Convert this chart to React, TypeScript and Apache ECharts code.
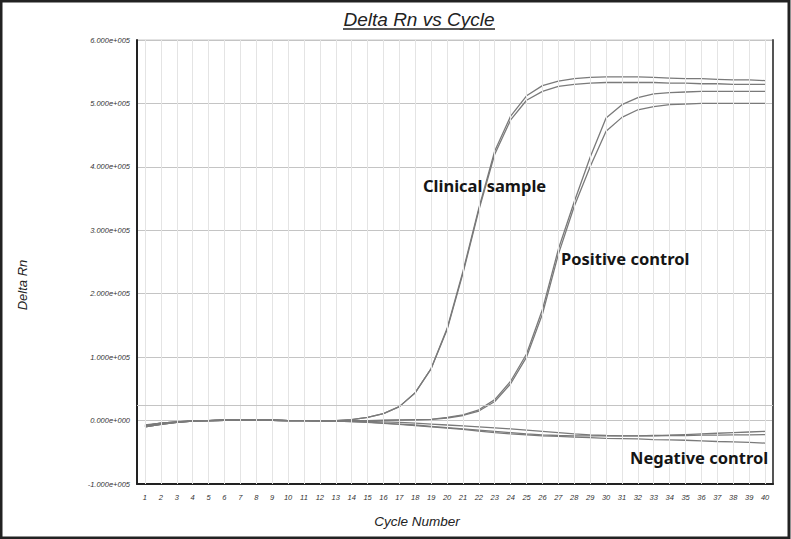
import React, { useEffect, useRef } from "react";
import * as echarts from "echarts";

const cycles: string[] = Array.from({ length: 40 }, (_, i) => String(i + 1));

const clinicalA = [-7000, -4000, -2000, -500, 0, 500, 1000, 1000, 500, 0, 0, -500, 0, 1500, 5000, 11000, 22000, 44000, 82000, 145000, 235000, 335000, 425000, 480000, 512000, 528000, 535000, 539000, 541000, 542000, 542000, 542000, 541000, 540000, 539000, 539000, 538000, 537000, 537000, 536000];
const clinicalB = [-10000, -6000, -3000, -1000, 0, 500, 1000, 1000, 500, 0, 0, -500, 0, 1500, 5000, 11000, 22000, 44000, 82000, 143000, 232000, 332000, 420000, 474000, 505000, 519000, 527000, 530000, 532000, 533000, 533000, 533000, 533000, 532000, 532000, 531000, 531000, 530000, 530000, 530000];
const positiveC = [-8000, -4000, -2000, -500, 0, 500, 800, 800, 500, 0, 0, -300, 0, 0, 0, 500, 1000, 1500, 2000, 5000, 9000, 17000, 33000, 62000, 105000, 175000, 270000, 345000, 415000, 477000, 498000, 509000, 515000, 517000, 518000, 519000, 519000, 519000, 519000, 519000];
const positiveD = [-10000, -6000, -3000, -1000, 0, 500, 800, 800, 500, 0, 0, -300, 0, 0, 0, 300, 800, 1200, 1800, 4000, 8000, 15000, 30000, 58000, 100000, 168000, 262000, 338000, 400000, 456000, 478000, 490000, 495000, 498000, 499000, 500000, 500000, 500000, 500000, 500000];
const negativeA = [-8000, -4000, -2000, -500, 0, 500, 800, 800, 500, 0, -200, -500, -500, -1000, -1500, -2000, -3000, -4000, -5500, -7000, -8500, -10000, -11500, -13000, -15000, -17000, -19000, -21000, -22500, -23500, -24000, -24000, -23500, -23000, -22000, -21000, -20000, -19000, -18000, -17000];
const negativeB = [-9000, -5000, -2500, -800, 0, 500, 800, 800, 500, 0, -200, -500, -800, -1500, -2500, -4000, -5500, -7000, -9000, -11000, -13000, -15000, -17000, -19000, -21000, -22500, -23500, -24000, -24000, -24000, -24000, -24000, -24000, -23500, -23500, -23000, -23000, -22500, -22500, -22000];
const negativeC = [-10000, -6000, -3000, -1000, 0, 500, 800, 800, 500, 0, -200, -500, -800, -1500, -3000, -4500, -6000, -8000, -10000, -12000, -14000, -16500, -19000, -21000, -22500, -24000, -25000, -26000, -27000, -28000, -28500, -29000, -30000, -30500, -31000, -32000, -33000, -33500, -34500, -35500];

const threshold = 24000;
const yMin = -100000;
const yMax = 600000;
const yStep = 100000;

const annotations = [
  { text: "Clinical sample", x: 423, y: 185 },
  { text: "Positive control", x: 561, y: 258 },
  { text: "Negative control", x: 630, y: 457 },
];

const fmt = (v: number) => {
  if (v === 0) return "0.000e+000";
  const s = v < 0 ? "-" : "";
  return s + (Math.abs(v) / 1e5).toFixed(3) + "e+005";
};

const curveStyle = { color: "#7a7a7a", width: 1.3 };

export default function App() {
  const ref = useRef<HTMLDivElement>(null);
  useEffect(() => {
    if (!ref.current) return;
    const chart = echarts.init(ref.current, undefined, { renderer: "svg" });
    const curves = [clinicalA, clinicalB, positiveC, positiveD, negativeA, negativeB, negativeC];
    const series: any[] = [
      {
        type: "line",
        data: [],
        z: 1,
        silent: true,
        markLine: {
          silent: true,
          symbol: "none",
          label: { show: false },
          animation: false,
          lineStyle: { color: "#e4e4e4", width: 1, type: "solid" },
          data: cycles.map((c) => ({ xAxis: c })),
        },
      },
      {
        type: "line",
        data: [],
        z: 1,
        silent: true,
        markLine: {
          silent: true,
          symbol: "none",
          label: { show: false },
          animation: false,
          lineStyle: { color: "#c4c4c4", width: 1.2, type: "solid" },
          data: [{ yAxis: threshold }],
        },
      },
      ...curves.map((d) => ({
        type: "line",
        data: d,
        showSymbol: false,
        symbol: "none",
        z: 3,
        lineStyle: curveStyle,
        silent: true,
      })),
    ];
    chart.setOption({
      animation: false,
      backgroundColor: "#ffffff",
      grid: { left: 137, right: 18, top: 40, bottom: 55, show: true, borderColor: "#c8c8c8", borderWidth: 1, outerBoundsMode: "none" },
      xAxis: {
        type: "category",
        data: cycles,
        boundaryGap: true,
        axisLine: { show: true, onZero: false, lineStyle: { color: "#222", width: 2 } },
        axisTick: { show: false },
        splitLine: { show: false },
        axisLabel: { fontSize: 7.5, fontStyle: "italic", fontFamily: "Liberation Sans", color: "#333", margin: 9, interval: 0 },
      },
      yAxis: [
        {
          type: "value",
          min: yMin,
          max: yMax,
          interval: yStep,
          axisLine: { show: true, onZero: false, lineStyle: { color: "#222", width: 2 } },
          axisTick: { show: false },
          splitLine: { show: true, lineStyle: { color: "#c4c4c4", width: 1.2 } },
          axisLabel: { fontSize: 7.5, fontStyle: "italic", fontFamily: "Liberation Sans", color: "#333", margin: 7, formatter: fmt },
        },
        {
          type: "value",
          min: yMin,
          max: yMax,
          interval: yStep,
          position: "right",
          axisLine: { show: true, onZero: false, lineStyle: { color: "#555", width: 2 } },
          axisTick: { show: false },
          splitLine: { show: false },
          axisLabel: { show: false },
        },
      ],
      series,
      graphic: [
        { type: "rect", shape: { x: 1, y: 1, width: 788, height: 537 }, style: { fill: "none", stroke: "#222", lineWidth: 3 }, silent: true },
        { type: "text", x: 419, y: 19, style: { text: "Delta Rn vs Cycle", font: "italic 19px 'Liberation Sans'", fill: "#222", align: "center", verticalAlign: "middle" } },
        { type: "line", shape: { x1: 343, y1: 29, x2: 495, y2: 29 }, style: { stroke: "#222", lineWidth: 1.3 } },
        { type: "text", x: 22, y: 285, rotation: Math.PI / 2, style: { text: "Delta Rn", font: "italic 13px 'Liberation Sans'", fill: "#222", align: "center", verticalAlign: "middle" } },
        { type: "text", x: 417, y: 521, style: { text: "Cycle Number", font: "italic 13.5px 'Liberation Sans'", fill: "#222", align: "center", verticalAlign: "middle" } },
        ...annotations.map((a) => ({
          type: "text",
          x: a.x,
          y: a.y,
          z: 10,
          style: { text: a.text, font: "bold 16.5px 'Noto Sans'", fill: "#151515", align: "left", verticalAlign: "middle" },
        })),
      ],
    });
    return () => chart.dispose();
  }, []);
  return <div ref={ref} style={{ position: "fixed", left: 0, top: 0, width: 791, height: 539 }} />;
}
